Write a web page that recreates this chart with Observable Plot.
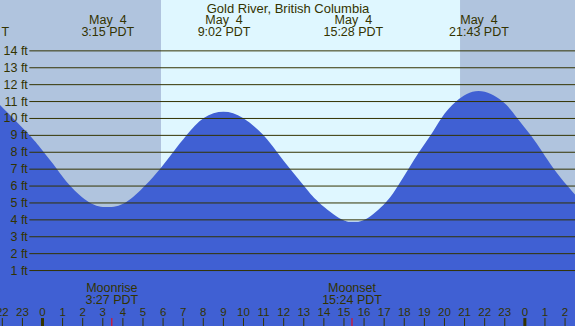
<!DOCTYPE html>
<html><head><meta charset="utf-8">
<script src="https://cdn.jsdelivr.net/npm/d3@7"></script>
<script src="https://cdn.jsdelivr.net/npm/@observablehq/plot@0.6"></script>
<style>body{margin:0;background:#fff}#chart svg{display:block}</style>
</head><body><div id="chart"></div>
<script>
// ---- data ----
const title = "Gold River, British Columbia";
// hours relative to midnight May 4 (PDT), tide height in feet
const tideHours = [-2.09, -0.64, 0.07, 0.73, 1.39, 2.36, 3.25, 4.16, 5.13, 5.88, 6.54, 7.21, 8.05, 9.03, 10.0, 11.0, 11.68, 12.34, 13.02, 13.78, 14.90, 15.47, 16.10, 17.10, 17.72, 18.24, 18.77, 19.35, 19.88, 20.63, 21.72, 22.89, 23.64, 24.30, 24.89, 25.46, 26.13, 26.54];
const tideFeet  = [10.76, 9.0, 8.0, 7.0, 6.0, 5.0, 4.73, 5.0, 6.0, 7.0, 8.0, 9.0, 10.0, 10.37, 10.0, 9.0, 8.0, 7.0, 6.0, 5.0, 4.0, 3.86, 4.0, 5.0, 6.0, 7.0, 8.0, 9.0, 10.0, 11.0, 11.59, 11.0, 10.0, 9.0, 8.0, 7.0, 6.0, 5.44];
const extremeHours = [3.25, 9.033, 15.467, 21.717];
const extremeDates = ["May\u00a0 4", "May\u00a0 4", "May\u00a0 4", "May\u00a0 4"];
const extremeTimes = ["3:15 PDT", "9:02 PDT", "15:28 PDT", "21:43 PDT"];
const sunriseHour = 5.92;
const sunsetHour = 20.8;
const moonHours = [3.45, 15.4];
const moonNames = ["Moonrise", "Moonset"];
const moonTimes = ["3:27 PDT", "15:24 PDT"];
const feetTicks = [1, 2, 3, 4, 5, 6, 7, 8, 9, 10, 11, 12, 13, 14];
const hourTicks = [-2, -1, 0, 1, 2, 3, 4, 5, 6, 7, 8, 9, 10, 11, 12, 13, 14, 15, 16, 17, 18, 19, 20, 21, 22, 23, 24, 25, 26];
const hourTickLabels = ["22", "23", "0", "1", "2", "3", "4", "5", "6", "7", "8", "9", "10", "11", "12", "13", "14", "15", "16", "17", "18", "19", "20", "21", "22", "23", "0", "1", "2"];

// ---- layout / style ----
const xDomain = [-2.09, 26.52];
const yDomain = [-2.31, 16.98];
const gridStart = -0.63;
const ink = "#333300";
const dayColor = "#dff7ff";
const nightColor = "#b0c4de";
const waterColor = "#4060d3";

const tide = tideHours.map((h, i) => ({h, ft: tideFeet[i]}));
const extremes = extremeHours.map((h, i) => ({h, text: extremeDates[i] + "\n" + extremeTimes[i]}));
const moons = moonHours.map((h, i) => ({h, text: moonNames[i] + "\n" + moonTimes[i]}));
const nights = [{x1: xDomain[0], x2: sunriseHour}, {x1: sunsetHour, x2: xDomain[1]}];
const hours = hourTicks.map((h, i) => ({h, label: hourTickLabels[i], major: hourTickLabels[i] === "0"}));

const chart = Plot.plot({
  width: 575,
  height: 326,
  margin: 0,
  x: {domain: xDomain, axis: null},
  y: {domain: yDomain, axis: null},
  style: {fontFamily: "'Liberation Sans', Arial, sans-serif", fontSize: "12.5px", background: dayColor, color: ink},
  marks: [
    Plot.rect(nights, {x1: "x1", x2: "x2", fill: nightColor}),
    Plot.areaY(tide, {x: "h", y1: yDomain[0], y2: "ft", fill: waterColor, curve: "natural", clip: true}),
    Plot.ruleY(feetTicks, {y: d => d, x1: gridStart, x2: xDomain[1], stroke: ink, strokeWidth: 1}),
    Plot.text(feetTicks, {x: gridStart, y: d => d, text: d => `${d} ft`, textAnchor: "end", dx: -2, fill: ink, fontSize: 12.5}),
    Plot.text([title], {text: d => d, frameAnchor: "top", lineAnchor: "top", dy: 2.8, fill: ink, fontSize: 13}),
    Plot.text(["T"], {text: d => d, frameAnchor: "top-left", textAnchor: "start", lineAnchor: "top", dx: 1, dy: 27.1, fill: ink, fontSize: 12.5}),
    Plot.text(extremes, {x: "h", text: "text", frameAnchor: "top", lineAnchor: "top", dy: 15.4, lineHeight: 0.94, fill: ink, fontSize: 12.5}),
    Plot.text(moons, {x: "h", text: "text", frameAnchor: "top", lineAnchor: "top", dy: 282.8, lineHeight: 0.98, fill: ink, fontSize: 12.5}),
    Plot.text(hours, {x: "h", text: "label", frameAnchor: "top", lineAnchor: "top", dy: 307.5, fill: ink, fontSize: 11.5}),
    Plot.ruleX(hours, {x: "h", y1: yDomain[0], y2: -1.84, stroke: ink, strokeWidth: d => d.major ? 3 : 1}),
    Plot.ruleX(moonHours, {x: d => d, y1: yDomain[0], y2: -1.84, stroke: "red", strokeWidth: 1})
  ]
});
document.getElementById("chart").appendChild(chart);
</script>
</body></html>
